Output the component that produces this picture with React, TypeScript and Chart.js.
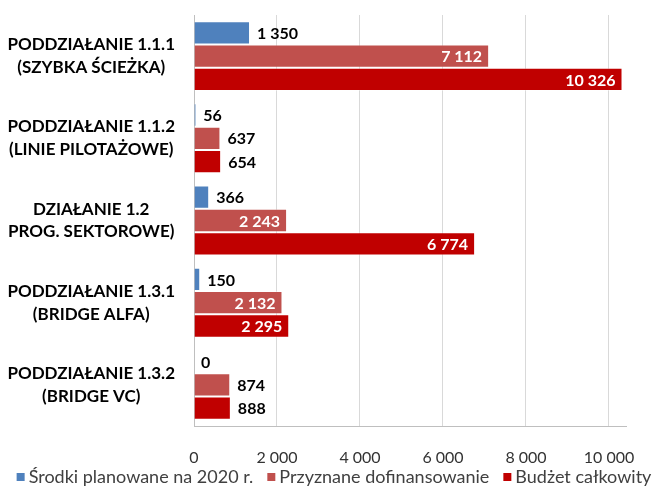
import React, { useEffect, useRef } from "react";
import { Chart, registerables } from "chart.js";

Chart.register(...registerables);

const categories: string[][] = [
  ["PODDZIAŁANIE 1.1.1", "(SZYBKA ŚCIEŻKA)"],
  ["PODDZIAŁANIE 1.1.2", "(LINIE PILOTAŻOWE)"],
  ["DZIAŁANIE 1.2", "PROG. SEKTOROWE)"],
  ["PODDZIAŁANIE 1.3.1", "(BRIDGE ALFA)"],
  ["PODDZIAŁANIE 1.3.2", "(BRIDGE VC)"],
];

const seriesNames = [
  "Środki planowane na 2020 r.",
  "Przyznane dofinansowanie",
  "Budżet całkowity",
];

const srodkiPlanowane = [1350, 56, 366, 150, 0];
const przyznaneDofinansowanie = [7112, 637, 2243, 2132, 874];
const budzetCalkowity = [10326, 654, 6774, 2295, 888];

const xTickValues = [0, 2000, 4000, 6000, 8000, 10000];

const FONT = "Lato, 'Liberation Sans', sans-serif";

const fmt = (v: number) => String(v).replace(/\B(?=(\d{3})+(?!\d))/g, " ");

const barLabels = {
  id: "barLabels",
  afterDatasetsDraw(chart: any) {
    const ctx = chart.ctx;
    ctx.save();
    ctx.font = `bold 16px ${FONT}`;
    ctx.textBaseline = "middle";
    chart.data.datasets.forEach((ds: any, di: number) => {
      const meta = chart.getDatasetMeta(di);
      meta.data.forEach((bar: any, i: number) => {
        const v = ds.data[i] as number;
        const txt = fmt(v);
        const w = ctx.measureText(txt).width;
        const p = bar.getProps(["x", "y", "base"], true);
        const len = p.x - p.base;
        if (di > 0 && w + 16 < len) {
          ctx.fillStyle = "#ffffff";
          ctx.textAlign = "right";
          ctx.fillText(txt, p.x - 7, p.y + 1);
        } else {
          ctx.fillStyle = "#000000";
          ctx.textAlign = "left";
          ctx.fillText(txt, p.x + 7, p.y + 1);
        }
      });
    });
    ctx.restore();
  },
};

const bottomLegend = {
  id: "bottomLegend",
  afterDraw(chart: any) {
    const ctx = chart.ctx;
    ctx.save();
    ctx.font = `18px ${FONT}`;
    ctx.textBaseline = "middle";
    ctx.textAlign = "left";
    const box = 8;
    const gapBoxText = 4;
    const gapItems = 14;
    const items = chart.data.datasets.map((ds: any) => ({
      text: ds.label as string,
      color: ds.backgroundColor as string,
      w: ctx.measureText(ds.label).width,
    }));
    const total =
      items.reduce((a: number, it: any) => a + box + gapBoxText + it.w, 0) +
      gapItems * (items.length - 1);
    let x = 334 - total / 2;
    const cy = 477;
    items.forEach((it: any) => {
      ctx.fillStyle = it.color;
      ctx.fillRect(x, cy - box / 2, box, box);
      x += box + gapBoxText;
      ctx.fillStyle = "#404040";
      ctx.fillText(it.text, x, cy);
      x += it.w + gapItems;
    });
    ctx.restore();
  },
};

export default function App() {
  const ref = useRef<HTMLCanvasElement | null>(null);

  useEffect(() => {
    if (!ref.current) return;
    const common = {
      borderColor: "rgba(255,255,255,0.35)",
      borderWidth: 1,
      categoryPercentage: 0.85,
      barPercentage: 1.0,
    };
    const chart = new Chart(ref.current, {
      type: "bar",
      data: {
        labels: categories,
        datasets: [
          { label: seriesNames[0], data: srodkiPlanowane, backgroundColor: "#4F81BD", ...common },
          { label: seriesNames[1], data: przyznaneDofinansowanie, backgroundColor: "#C0504D", ...common },
          { label: seriesNames[2], data: budzetCalkowity, backgroundColor: "#C00000", ...common },
        ],
      },
      options: {
        indexAxis: "y",
        animation: false,
        responsive: false,
        maintainAspectRatio: false,
        layout: { padding: { left: 0, right: 0, top: 15, bottom: 0 } },
        plugins: {
          tooltip: { enabled: false },
          legend: { display: false },
        },
        scales: {
          x: {
            type: "linear",
            position: "bottom",
            min: 0,
            max: 10410,
            afterBuildTicks: (s: any) => {
              s.ticks = xTickValues.map((v) => ({ value: v }));
            },
            afterFit: (s: any) => {
              s.height = 60;
              s.paddingLeft = 0;
              s.paddingRight = 0;
            },
            ticks: {
              callback: (v: any) => fmt(Number(v)),
              color: "#333333",
              padding: 22,
              maxRotation: 0,
              autoSkip: false,
              font: { family: FONT, size: 16 },
            },
            grid: { color: "#d9d9d9", drawTicks: false },
            border: { color: "#bfbfbf", width: 1 },
          },
          y: {
            type: "category",
            position: "left",
            afterFit: (s: any) => {
              s.width = 194;
              s.paddingTop = 0;
              s.paddingBottom = 0;
            },
            ticks: {
              crossAlign: "center",
              padding: 19,
              color: "#000000",
              font: { family: FONT, size: 17, weight: "bold", lineHeight: 1.35 },
            },
            grid: { display: false, drawTicks: false },
            border: { color: "#bfbfbf", width: 1 },
          },
          y2: {
            type: "category",
            position: "right",
            display: true,
            afterFit: (s: any) => {
              s.width = 28;
              s.paddingTop = 0;
              s.paddingBottom = 0;
            },
            ticks: { display: false },
            grid: { display: false, drawTicks: false },
            border: { display: false },
          },
        },
      },
      plugins: [barLabels, bottomLegend],
    } as any);
    return () => chart.destroy();
  }, []);

  return (
    <div style={{ position: "absolute", left: 0, top: 0, width: 654, height: 486, background: "#fff" }}>
      <canvas ref={ref} width={654} height={486} style={{ width: 654, height: 486 }} />
    </div>
  );
}
